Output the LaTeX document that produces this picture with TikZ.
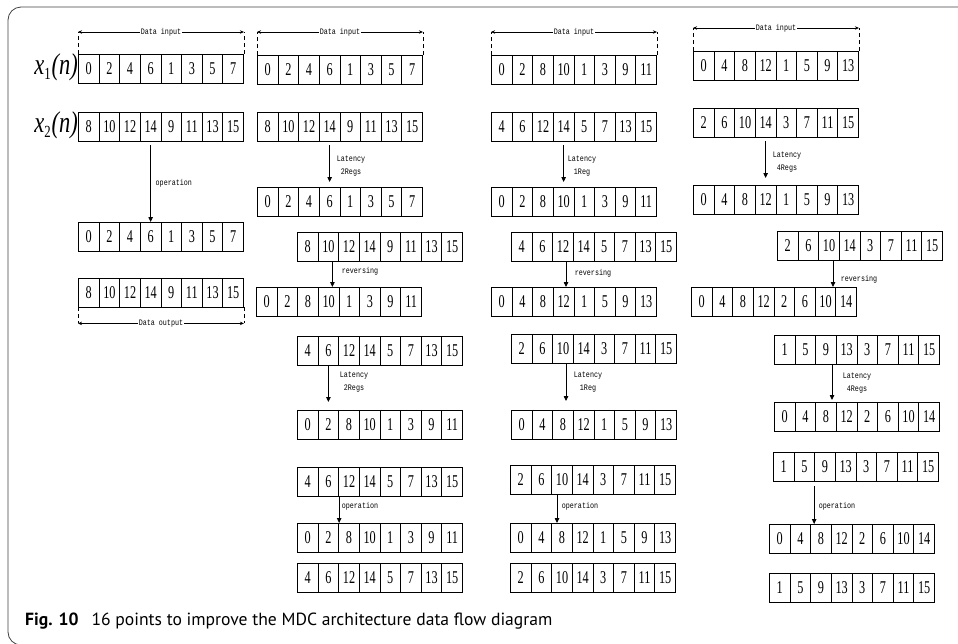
\documentclass[tikz,border=0pt]{standalone}
\usepackage{fontspec}
\usepackage{graphicx}
\usetikzlibrary{arrows.meta,calc}
\newfontfamily\cellfont[FakeStretch=0.68]{Liberation Serif}
\newfontfamily\sigfont[ItalicFont={Liberation Serif Italic}]{Liberation Serif}
\newfontfamily\labfont[FakeStretch=0.8]{Liberation Mono}
\newfontfamily\capfont{PT Sans}
\newcommand\cellrow[4]{\foreach \val [count=\i] in {#4} {\node[cell, anchor=north west] (#1-\i) at ({#2+(\i-1)*20.625}, #3) {\val};}}
\newcommand\siglab[1]{\scalebox{0.75}[1]{\sigfont\fontsize{30}{30}\selectfont\itshape x\raisebox{-5pt}{\upshape\fontsize{17}{17}\selectfont #1}\kern1pt(n)}}
\tikzset{
  cell/.style={draw, line width=0.9pt, minimum width=20.625pt, minimum height=28.5pt, inner sep=0pt, font=\cellfont\fontsize{18}{18}\selectfont},
  flow/.style={-{Triangle[length=5pt,width=4.5pt]}, line width=0.8pt},
  dim/.style={{Stealth[length=4pt,width=3.5pt]}-{Stealth[length=4pt,width=3.5pt]}, line width=0.7pt},
  guide/.style={dash pattern=on 4pt off 3pt, line width=0.7pt},
  lab/.style={font=\labfont\fontsize{8.4}{12.5}\selectfont, align=center, inner sep=0.5pt},
  dimlab/.style={font=\labfont\fontsize{8.4}{12}\selectfont, fill=white, inner sep=0.5pt},
  xlab/.style={anchor=east, inner sep=0pt},
  frame/.style={draw=black!75, line width=0.8pt, rounded corners=13pt}
}
\begin{document}
\begin{tikzpicture}[x=1pt,y=-1pt]
\useasboundingbox (0,0) rectangle (958,643);
\clip (0,0) rectangle (958,643);
\draw[frame] (8,7) rectangle (990,645);

% ---------- column 1 ----------
\cellrow{c1r1}{78}{54}{0,2,4,6,1,3,5,7}
\cellrow{c1r2}{78}{112}{8,10,12,14,9,11,13,15}
\cellrow{c1r3}{78}{222}{0,2,4,6,1,3,5,7}
\cellrow{c1r4}{78}{278}{8,10,12,14,9,11,13,15}
\node[xlab] (x1) at ([yshift=1pt]c1r1-1.west) {\siglab{1}};
\node[xlab] (x2) at ([yshift=1pt]c1r2-1.west) {\siglab{2}};
\draw[flow] ([yshift=-4pt]c1r2-4.south) -- (c1r3-4.north);
\node[lab, anchor=west] (l1) at (155,183) {operation};
% data input / output
\draw[guide] (c1r1-1.north west) -- ++(0,-22);
\draw[guide] (c1r1-8.north east) -- ++(0,-22);
\draw[dim] ([yshift=22pt]c1r1-1.north west) -- ([yshift=22pt]c1r1-8.north east);
\node[dimlab] (d1) at ([yshift=22pt]$(c1r1-1.north west)!0.5!(c1r1-8.north east)$) {Data input};
\draw[guide] (c1r4-1.south west) -- ++(0,16);
\draw[guide] (c1r4-8.south east) -- ++(0,16);
\draw[dim] ([yshift=-16pt]c1r4-1.south west) -- ([yshift=-16pt]c1r4-8.south east);
\node[dimlab] (d1o) at ([yshift=-16pt]$(c1r4-1.south west)!0.5!(c1r4-8.south east)$) {Data output};

% ---------- column 2 ----------
\cellrow{c2r1}{257}{55}{0,2,4,6,1,3,5,7}
\cellrow{c2r2}{257}{112}{8,10,12,14,9,11,13,15}
\cellrow{c2r3}{257}{187}{0,2,4,6,1,3,5,7}
\cellrow{c2r4}{297}{232}{8,10,12,14,9,11,13,15}
\cellrow{c2r5}{256}{287}{0,2,8,10,1,3,9,11}
\cellrow{c2r6}{297}{336}{4,6,12,14,5,7,13,15}
\cellrow{c2r7}{297}{410}{0,2,8,10,1,3,9,11}
\cellrow{c2r8}{297}{467}{4,6,12,14,5,7,13,15}
\cellrow{c2r9}{297}{523}{0,2,8,10,1,3,9,11}
\cellrow{c2r10}{297}{563}{4,6,12,14,5,7,13,15}
\draw[guide] (c2r1-1.north west) -- ++(0,-23);
\draw[guide] (c2r1-8.north east) -- ++(0,-23);
\draw[dim] ([yshift=23pt]c2r1-1.north west) -- ([yshift=23pt]c2r1-8.north east);
\node[dimlab] (d2) at ([yshift=23pt]$(c2r1-1.north west)!0.5!(c2r1-8.north east)$) {Data input};
\draw[flow] ([yshift=-4pt]c2r2-4.south) -- ([yshift=5pt]c2r3-4.north);
\node[lab] (l2a) at (351,166) {Latency\\2Regs};
\draw[flow] ([xshift=4pt]c2r4-2.south) -- ([xshift=4pt]c2r4-2.south |- c2r5-4.north);
\node[lab] (l2b) at (360,271) {reversing};
\draw[flow] (c2r6-2.south) -- ([yshift=8pt]c2r7-2.north);
\node[lab] (l2c) at (354,382) {Latency\\2Regs};
\draw[flow] (c2r8-2.south east) -- (c2r9-2.north east);
\node[lab] (l2d) at (360,506) {operation};

% ---------- column 3 ----------
\cellrow{c3r1}{491}{55}{0,2,8,10,1,3,9,11}
\cellrow{c3r2}{491}{112}{4,6,12,14,5,7,13,15}
\cellrow{c3r3}{491}{187}{0,2,8,10,1,3,9,11}
\cellrow{c3r4}{511}{232}{4,6,12,14,5,7,13,15}
\cellrow{c3r5}{491}{287}{0,4,8,12,1,5,9,13}
\cellrow{c3r6}{511}{334}{2,6,10,14,3,7,11,15}
\cellrow{c3r7}{511}{410}{0,4,8,12,1,5,9,13}
\cellrow{c3r8}{510}{465}{2,6,10,14,3,7,11,15}
\cellrow{c3r9}{510}{523}{0,4,8,12,1,5,9,13}
\cellrow{c3r10}{510}{563}{2,6,10,14,3,7,11,15}
\draw[guide] (c3r1-1.north west) -- ++(0,-23);
\draw[guide] (c3r1-8.north east) -- ++(0,-23);
\draw[dim] ([yshift=23pt]c3r1-1.north west) -- ([yshift=23pt]c3r1-8.north east);
\node[dimlab] (d3) at ([yshift=23pt]$(c3r1-1.north west)!0.5!(c3r1-8.north east)$) {Data input};
\draw[flow] ([yshift=-4pt]c3r2-4.south) -- ([yshift=5pt]c3r3-4.north);
\node[lab] (l3a) at (582,166) {Latency\\1Reg};
\draw[flow] ([xshift=3pt]c3r4-3.south) -- ([xshift=3pt]c3r4-3.south |- c3r5-4.north);
\node[lab] (l3b) at (593,273) {reversing};
\draw[flow] ([xshift=3pt]c3r6-3.south) -- ([xshift=3pt,yshift=9pt]c3r7-3.north);
\node[lab] (l3c) at (588,382) {Latency\\1Reg};
\draw[flow] ([xshift=-5pt]c3r8-3.south) -- ([xshift=-5pt]c3r8-3.south |- c3r9-3.north);
\node[lab] (l3d) at (580,506) {operation};

% ---------- column 4 ----------
\cellrow{c4r1}{693}{51}{0,4,8,12,1,5,9,13}
\cellrow{c4r2}{693}{108}{2,6,10,14,3,7,11,15}
\cellrow{c4r3}{693}{185}{0,4,8,12,1,5,9,13}
\cellrow{c4r4}{777}{231}{2,6,10,14,3,7,11,15}
\cellrow{c4r5}{691}{287}{0,4,8,12,2,6,10,14}
\cellrow{c4r6}{774}{335}{1,5,9,13,3,7,11,15}
\cellrow{c4r7}{774}{402}{0,4,8,12,2,6,10,14}
\cellrow{c4r8}{773}{452}{1,5,9,13,3,7,11,15}
\cellrow{c4r9}{769}{524}{0,4,8,12,2,6,10,14}
\cellrow{c4r10}{769}{573}{1,5,9,13,3,7,11,15}
\draw[guide] (c4r1-1.north west) -- ++(0,-23);
\draw[guide] (c4r1-8.north east) -- ++(0,-23);
\draw[dim] ([yshift=23pt]c4r1-1.north west) -- ([yshift=23pt]c4r1-8.north east);
\node[dimlab] (d4) at ([yshift=23pt]$(c4r1-1.north west)!0.5!(c4r1-8.north east)$) {Data input};
\draw[flow] ([yshift=-4pt]c4r2-4.south) -- ([yshift=7pt]c4r3-4.north);
\node[lab] (l4a) at (787,162) {Latency\\4Regs};
\draw[flow] ([xshift=4pt]c4r4-3.south) -- ([xshift=4pt]c4r4-3.south |- c4r5-7.north);
\node[lab] (l4b) at (859,279) {reversing};
\draw[flow] ([xshift=6pt]c4r6-3.south) -- ([xshift=6pt,yshift=2pt]c4r7-3.north);
\node[lab] (l4c) at (857,383) {Latency\\4Regs};
\draw[flow] ([xshift=-1pt,yshift=-5pt]c4r8-2.south east) -- ([xshift=-1pt]c4r8-2.south east |- c4r9-3.north);
\node[lab] (l4d) at (837,506) {operation};

% ---------- caption ----------
\node[anchor=base west, inner sep=0pt, font=\capfont\fontsize{17.6}{17.6}\selectfont] (cap) at (25,625) {\textbf{Fig. 10}\hspace{13pt}16 points to improve the MDC architecture data flow diagram};
\end{tikzpicture}
\end{document}
